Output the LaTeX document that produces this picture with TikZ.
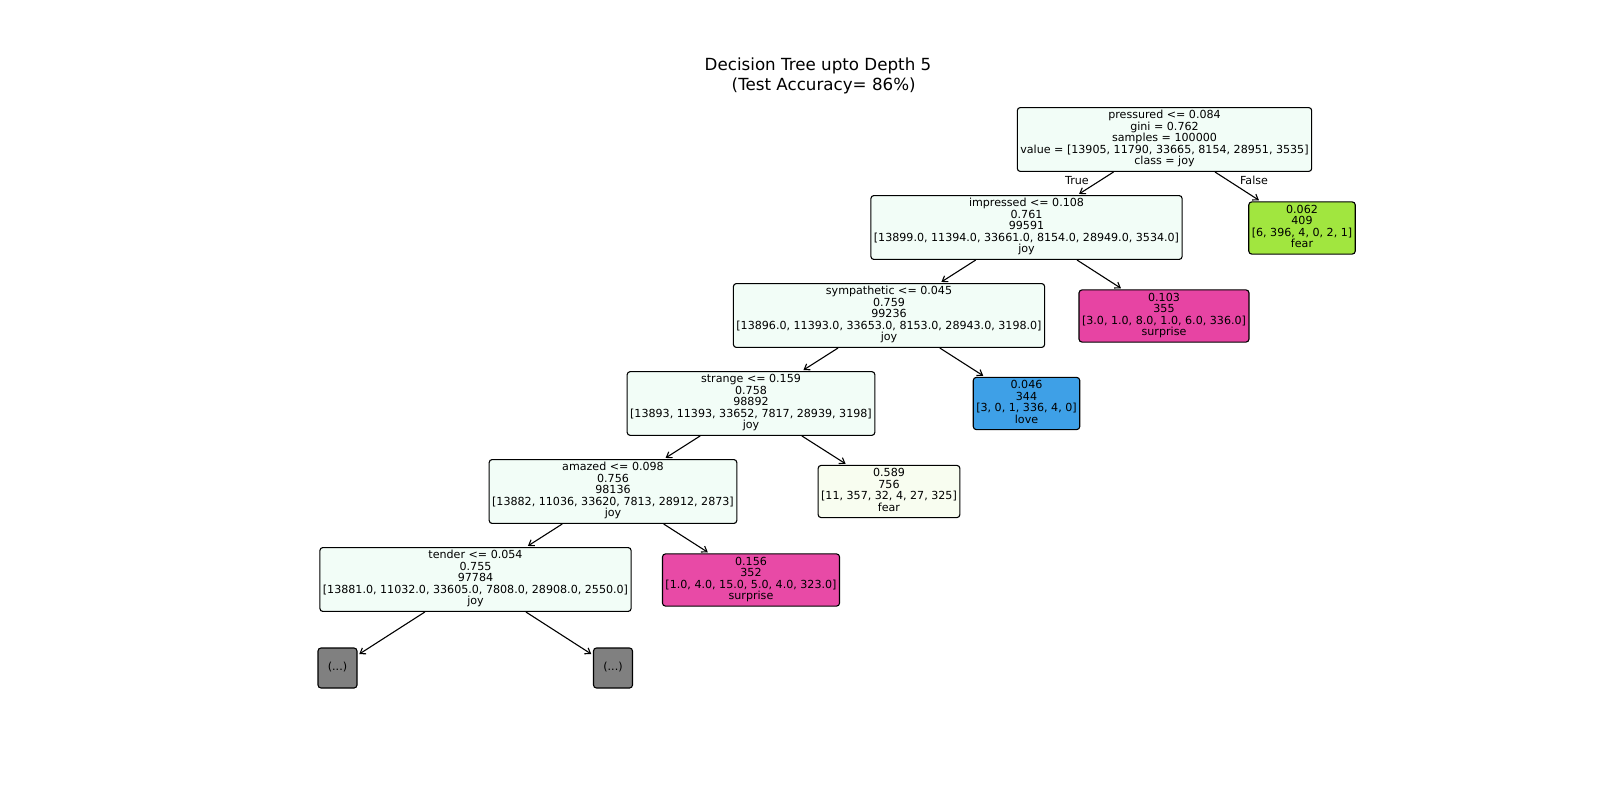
\documentclass[tikz,border=0pt]{standalone}
\usepackage{fontspec}
\setmainfont{DejaVu Sans}
\usetikzlibrary{arrows.meta}

\definecolor{joyfill}{RGB}{242,253,247}
\definecolor{fearfill}{RGB}{161,230,63}
\definecolor{fearpale}{RGB}{248,253,240}
\definecolor{lovefill}{RGB}{62,160,231}
\definecolor{surpfill}{RGB}{231,68,163}
\definecolor{surpfillb}{RGB}{232,74,166}
\definecolor{hidden}{RGB}{128,128,128}

\tikzset{
	treenode/.style = {draw, rounded corners = 3pt, line width = 1.1pt, align = center,
		inner xsep = 3pt, inner ysep = 3pt, font = \fontsize{11.1}{11.5}\selectfont,
		execute at begin node = \strut, execute at end node = \strut},
	treearrow/.style = {-{Straight Barb[length = 5pt, width = 7pt]}, line width = 1.1pt, shorten > = 2pt},
	sidelabel/.style = {font = \fontsize{11.1}{11.5}\selectfont}
}

\begin{document}
\begin{tikzpicture}[x = 1pt, y = -1pt]
						\useasboundingbox (0,0) rectangle (1600,800);

						\node [align = center, font = \fontsize{16.7}{20}\selectfont] (title) at (818,75.5)
							{Decision Tree upto Depth 5\\\hspace*{0.68em}(Test Accuracy= 86\%)};

						\begin{scope}[every node/.append style = {treenode}]
							\node [fill = joyfill] (root) at (1164.5,139.5)
								{pressured <= 0.084\\gini = 0.762\\samples = 100000\\value = [13905, 11790, 33665, 8154, 28951, 3535]\\class = joy};
							\node [fill = joyfill] (impressed) at (1026.5,227.5)
								{impressed <= 0.108\\0.761\\99591\\{[13899.0, 11394.0, 33661.0, 8154.0, 28949.0, 3534.0]}\\joy};
							\node [fill = fearfill] (fearA) at (1302,228)
								{0.062\\409\\{[6, 396, 4, 0, 2, 1]}\\fear};
							\node [fill = joyfill] (sympathetic) at (889,315.5)
								{sympathetic <= 0.045\\0.759\\99236\\{[13896.0, 11393.0, 33653.0, 8153.0, 28943.0, 3198.0]}\\joy};
							\node [fill = surpfill] (surpriseA) at (1164,316)
								{0.103\\355\\{[3.0, 1.0, 8.0, 1.0, 6.0, 336.0]}\\surprise};
							\node [fill = joyfill] (strange) at (751,403.5)
								{strange <= 0.159\\0.758\\98892\\{[13893, 11393, 33652, 7817, 28939, 3198]}\\joy};
							\node [fill = lovefill] (love) at (1026.5,403.5)
								{0.046\\344\\{[3, 0, 1, 336, 4, 0]}\\love};
							\node [fill = joyfill] (amazed) at (613,491.5)
								{amazed <= 0.098\\0.756\\98136\\{[13882, 11036, 33620, 7813, 28912, 2873]}\\joy};
							\node [fill = fearpale] (fearB) at (889,491.5)
								{0.589\\756\\{[11, 357, 32, 4, 27, 325]}\\fear};
							\node [fill = joyfill] (tender) at (475.5,579.5)
								{tender <= 0.054\\0.755\\97784\\{[13881.0, 11032.0, 33605.0, 7808.0, 28908.0, 2550.0]}\\joy};
							\node [fill = surpfillb] (surpriseB) at (751,580)
								{0.156\\352\\{[1.0, 4.0, 15.0, 5.0, 4.0, 323.0]}\\surprise};
							\node [fill = hidden, minimum width = 39pt, minimum height = 40pt,
								execute at begin node = {}, execute at end node = {}] (moreL) at (337.5,668) {(...)};
							\node [fill = hidden, minimum width = 39pt, minimum height = 40pt,
								execute at begin node = {}, execute at end node = {}] (moreR) at (613,668) {(...)};
						\end{scope}

						\begin{scope}[treearrow]
							\draw (root) -- (impressed);
							\draw (root) -- (fearA);
							\draw (impressed) -- (sympathetic);
							\draw (impressed) -- (surpriseA);
							\draw (sympathetic) -- (strange);
							\draw (sympathetic) -- (love);
							\draw (strange) -- (amazed);
							\draw (strange) -- (fearB);
							\draw (amazed) -- (tender);
							\draw (amazed) -- (surpriseB);
							\draw (tender) -- (moreL);
							\draw (tender) -- (moreR);
						\end{scope}

						\node [sidelabel] (truelabel) at (1077,180.5) {True};
						\node [sidelabel] (falselabel) at (1254,180.5) {False};
					\end{tikzpicture}
\end{document}
